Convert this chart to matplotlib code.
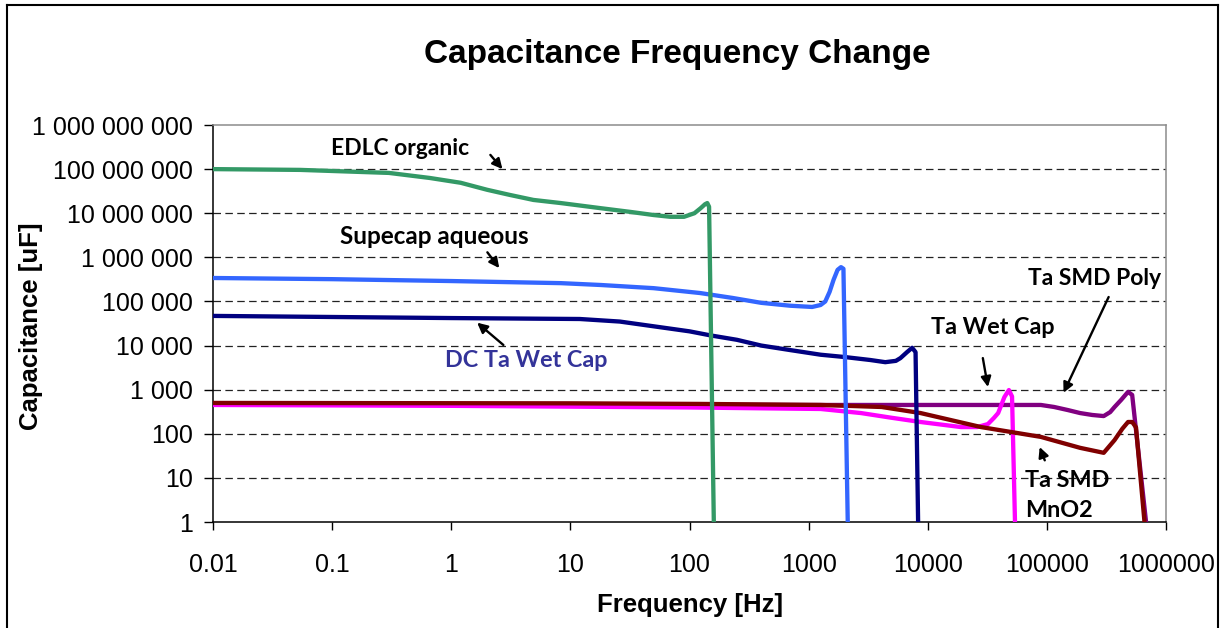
import matplotlib
matplotlib.use("Agg")
import matplotlib.pyplot as plt
from matplotlib.ticker import FixedLocator, FuncFormatter, NullLocator
from matplotlib.lines import Line2D

# ---------------- data ----------------
edlc_f = [0.01, 0.054, 0.3, 0.66, 1.2, 2.0, 3.1, 4.9, 8.3, 18, 32, 50, 69, 90, 110, 124, 135, 141, 146, 160]
edlc_c = [1.0e8, 9.6e7, 8.2e7, 6.3e7, 4.9e7, 3.4e7, 2.6e7, 2.0e7, 1.7e7, 1.3e7, 1.07e7, 9.1e6, 8.3e6,
          8.3e6, 1.0e7, 1.3e7, 1.6e7, 1.7e7, 1.4e7, 1]

supe_f = [0.01, 0.1, 1, 8.3, 18, 50, 123, 230, 400, 700, 1070, 1260, 1380, 1500, 1620, 1750, 1870, 1960, 2130]
supe_c = [3.4e5, 3.2e5, 2.9e5, 2.6e5, 2.36e5, 2.0e5, 1.55e5, 1.2e5, 9.3e4, 8.0e4, 7.5e4, 8.3e4, 1.0e5,
          1.65e5, 3.1e5, 5.2e5, 6.0e5, 5.5e5, 1]

dcta_f = [0.01, 1, 12, 26, 57, 100, 150, 250, 400, 700, 1260, 2000, 3300, 4400, 5400, 5900, 6700, 7400, 7900, 8300]
dcta_c = [4.7e4, 4.2e4, 4.0e4, 3.5e4, 2.6e4, 2.1e4, 1.7e4, 1.35e4, 1.0e4, 7.9e3, 6.2e3, 5.5e3, 4.7e3,
          4.2e3, 4.5e3, 5.2e3, 7.1e3, 8.9e3, 7.1e3, 1]

mno2_f = [0.01, 10, 124, 1260, 4100, 8700, 2.8e4, 8.9e4, 1.9e5, 3.0e5, 3.7e5, 4.3e5, 4.8e5, 5.2e5, 5.6e5, 6.6e5]
mno2_c = [500, 490, 475, 450, 405, 295, 142, 85, 48, 37, 72, 130, 185, 185, 140, 1]

wet_f = [0.01, 1, 100, 400, 1260, 2750, 5000, 8700, 1.9e4, 2.6e4, 3.2e4, 3.6e4, 3.9e4, 4.4e4, 4.8e4, 5.1e4, 5.4e4]
wet_c = [450, 430, 395, 378, 365, 295, 230, 185, 142, 142, 166, 230, 295, 680, 980, 700, 1]

poly_f = [0.01, 1000, 8.9e4, 1.15e5, 1.5e5, 1.9e5, 2.4e5, 3.0e5, 3.4e5, 3.7e5, 4.2e5, 4.8e5, 5.2e5, 6.8e5]
poly_c = [480, 450, 450, 405, 345, 295, 267, 252, 310, 405, 585, 890, 760, 1]

x_ticks = [0.01, 0.1, 1, 10, 100, 1000, 10000, 100000, 1000000]
x_tick_labels = ["0.01", "0.1", "1", "10", "100", "1000", "10000", "100000", "1000000"]
y_ticks = [1, 10, 100, 1000, 1e4, 1e5, 1e6, 1e7, 1e8, 1e9]

title = "Capacitance Frequency Change"
xlabel = "Frequency [Hz]"
ylabel = "Capacitance [uF]"

# ---------------- figure ----------------
W, H = 1224, 628
fig = plt.figure(figsize=(W / 100, H / 100), dpi=100)
fig.patch.set_facecolor("white")
ax = fig.add_axes([213 / W, 1 - 522 / H, (1166 - 213) / W, (522 - 125) / H])
ax.set_xscale("log")
ax.set_yscale("log")
ax.set_xlim(0.01, 1e6)
ax.set_ylim(1, 1e9)

lw = 3.1
kw = dict(lw=lw, solid_joinstyle="round", solid_capstyle="round", clip_on=True)
ax.plot(poly_f, poly_c, color="#800080", zorder=3, **kw)
ax.plot(wet_f, wet_c, color="#FF00FF", zorder=3.1, **kw)
ax.plot(mno2_f, mno2_c, color="#800000", zorder=3.2, **kw)
ax.plot(dcta_f, dcta_c, color="#000080", zorder=3.3, **kw)
ax.plot(supe_f, supe_c, color="#3366FF", zorder=3.4, **kw)
ax.plot(edlc_f, edlc_c, color="#339966", zorder=3.5, **kw)

# axes styling
ax.yaxis.set_major_locator(FixedLocator(y_ticks))
ax.yaxis.set_minor_locator(NullLocator())
ax.yaxis.set_major_formatter(FuncFormatter(lambda v, p: f"{int(round(v)):,}".replace(",", " ")))
ax.set_xticks(x_ticks)
ax.set_xticklabels(x_tick_labels)
ax.xaxis.set_minor_locator(NullLocator())

for lab in ax.get_xticklabels() + ax.get_yticklabels():
    lab.set_fontfamily("Liberation Sans")
    lab.set_fontsize(18)
ax.tick_params(axis="y", direction="out", length=6.5, width=1, pad=8, colors="black")
ax.tick_params(axis="x", direction="out", length=6, width=1, pad=16, colors="black")

for y in y_ticks[1:-1]:
    ax.axhline(y, color="#222222", lw=0.9, dashes=(6, 3.5), zorder=1)

ax.spines["left"].set_color("black")
ax.spines["bottom"].set_color("black")
ax.spines["top"].set_color("#8c8c8c")
ax.spines["right"].set_color("#8c8c8c")
for s in ax.spines.values():
    s.set_linewidth(1.1)

fig.text(677 / W, 1 - 55 / H, title, ha="center", va="center",
         fontfamily="Liberation Sans", fontweight="bold", fontsize=24)
fig.text(690 / W, 1 - 605 / H, xlabel, ha="center", va="center",
         fontfamily="Liberation Sans", fontweight="bold", fontsize=18.5)
fig.text(31 / W, 1 - 326 / H, ylabel, ha="center", va="center", rotation=90,
         fontfamily="Liberation Sans", fontweight="bold", fontsize=18.5)

# annotations
af = dict(fontfamily="Lato", fontweight="bold")
ax.text(0.37, 3.0e8, "EDLC organic", ha="center", va="center", color="black", fontsize=16.5, **af)
ax.text(0.72, 2.9e6, "Supecap aqueous", ha="center", va="center", color="black", fontsize=17.5, **af)
ax.text(4.3, 4.7e3, "DC Ta Wet Cap", ha="center", va="center", color="#333399", fontsize=16.8, **af)
ax.text(3.5e4, 2.6e4, "Ta Wet Cap", ha="center", va="center", color="black", fontsize=16.8, **af)
ax.text(2.5e5, 3.4e5, "Ta SMD Poly", ha="center", va="center", color="black", clip_on=False,
        fontsize=16.5, **af)
ax.text(6.6e4, 10 ** 0.95, "Ta SMD", ha="left", va="center", color="black", zorder=10, fontsize=16.8, **af)
ax.text(6.6e4, 10 ** 0.27, "MnO2", ha="left", va="center", color="black", zorder=10, fontsize=16.8, **af)

arrows = [
    ((2.13, 2.1e8), (2.69, 1.0e8)),
    ((2.01, 1.3e6), (2.53, 5.7e5)),
    ((2.74, 1.03e4), (1.65, 3.3e4)),
    ((2.9e4, 5.2e3), (3.2e4, 1.15e3)),
    ((3.3e5, 1.26e5), (1.38e5, 850)),
    ((9.6e4, 25), (8.7e4, 50)),
]
for tail, head in arrows:
    ax.annotate("", xy=head, xytext=tail,
                arrowprops=dict(arrowstyle="-|>,head_length=0.6,head_width=0.3",
                                color="black", lw=1.7, shrinkA=0, shrinkB=0),
                zorder=10)

# outer border (bottom edge runs off the image)
for xs, ys in [((7 / W, 7 / W), (-0.02, 1 - 5 / H)),
               ((7 / W, 1218 / W), (1 - 5 / H, 1 - 5 / H)),
               ((1218 / W, 1218 / W), (-0.02, 1 - 5 / H))]:
    fig.add_artist(Line2D(xs, ys, color="black", lw=1.5, transform=fig.transFigure))

fig.savefig("out.png", dpi=100, facecolor="white")
